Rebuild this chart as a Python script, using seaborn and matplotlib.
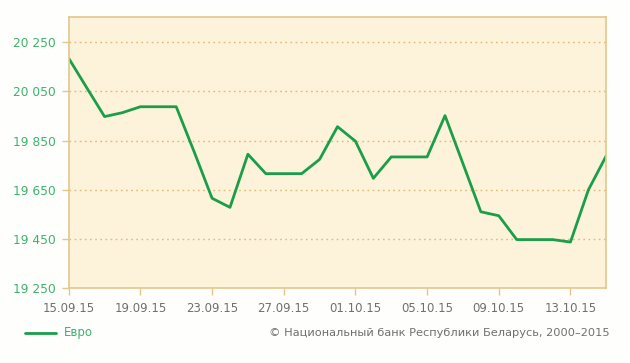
import matplotlib
matplotlib.use("Agg")
import matplotlib.pyplot as plt
import matplotlib.dates as mdates
import matplotlib.ticker as mticker
import seaborn as sns
import pandas as pd

dates = ["15.09.15", "16.09.15", "17.09.15", "18.09.15", "19.09.15", "20.09.15", "21.09.15",
         "22.09.15", "23.09.15", "24.09.15", "25.09.15", "26.09.15", "27.09.15", "28.09.15",
         "29.09.15", "30.09.15", "01.10.15", "02.10.15", "03.10.15", "04.10.15", "05.10.15",
         "06.10.15", "07.10.15", "08.10.15", "09.10.15", "10.10.15", "11.10.15", "12.10.15",
         "13.10.15", "14.10.15", "15.10.15"]
euro = [20185, 20066, 19948, 19964, 19988, 19988, 19988,
        19805, 19616, 19579, 19795, 19716, 19716, 19716,
        19774, 19907, 19848, 19697, 19784, 19784, 19784,
        19952, 19757, 19561, 19545, 19448, 19448, 19448,
        19438, 19650, 19789]
yticks = [19250, 19450, 19650, 19850, 20050, 20250]
series_name = "Евро"
credit = "© Национальный банк Республики Беларусь, 2000–2015"

df = pd.DataFrame({"date": pd.to_datetime(dates, format="%d.%m.%y"), "value": euro})

sns.set_theme(style="white")
plt.rcParams["font.family"] = ["DejaVu Sans"]

green = "#1A9E4A"
tan = "#E3C68C"
fs = 8.2
fig = plt.figure(figsize=(6.3, 3.63), dpi=100, facecolor="#FEFEFC")
ax = fig.add_axes([68.7 / 630, 1 - 288.3 / 363, (606.3 - 68.7) / 630, (288.3 - 16.7) / 363])
ax.set_facecolor("#FDF3DA")

sns.lineplot(data=df, x="date", y="value", ax=ax, color=green, linewidth=2.0)

ax.set_xlim(df["date"].iloc[0], df["date"].iloc[-1])
ax.set_ylim(19250, 20354)
ax.set_yticks(yticks)
ax.yaxis.set_major_formatter(mticker.FuncFormatter(lambda v, p: f"{int(v):,}".replace(",", " ")))
ax.set_xticks(pd.to_datetime(dates[::4], format="%d.%m.%y"))
ax.xaxis.set_major_formatter(mdates.DateFormatter("%d.%m.%y"))
ax.set_xlabel("")
ax.set_ylabel("")

for y in yticks[1:]:
    ax.axhline(y, color="#E0B878", linestyle=(0, (1.2, 2.5)), linewidth=1.0, zorder=0.5)

for s in ax.spines.values():
    s.set_color(tan)
    s.set_linewidth(1.2)

ax.tick_params(axis="y", which="major", direction="out", length=5, width=1, color=tan,
               labelcolor="#3DB36A", labelsize=fs + 0.6, pad=4)
ax.tick_params(axis="x", which="major", direction="out", length=5, width=1, color=tan,
               labelcolor="#707070", labelsize=fs + 0.3, pad=5)
ax.tick_params(left=True, bottom=True)

fig.add_artist(plt.Line2D([25 / 630, 56 / 630], [1 - 332.5 / 363, 1 - 332.5 / 363], color=green, linewidth=2.0))
fig.text(64 / 630, 1 - 332.5 / 363, series_name, color="#3DB36A", fontsize=fs + 0.3, va="center", ha="left")
fig.text(610 / 630, 1 - 332.5 / 363, credit, color="#707070", fontsize=fs, va="center", ha="right")

fig.savefig("out.png", dpi=100, facecolor=fig.get_facecolor())
